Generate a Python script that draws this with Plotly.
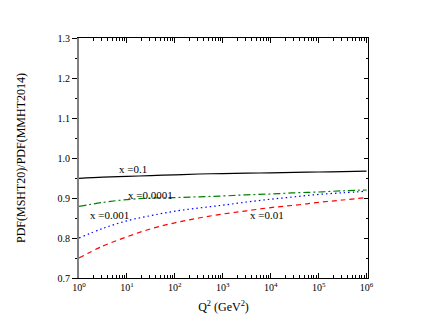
import plotly.graph_objects as go

logq = [0, 0.5, 1, 1.5, 2, 2.5, 3, 3.5, 4, 4.5, 5, 5.5, 6]
q2 = [10 ** v for v in logq]
r_x01 = [0.949, 0.952, 0.954, 0.956, 0.958, 0.960, 0.961, 0.962, 0.963, 0.964, 0.965, 0.966, 0.967]
r_x00001 = [0.879, 0.889, 0.896, 0.900, 0.901, 0.903, 0.905, 0.908, 0.910, 0.913, 0.915, 0.918, 0.920]
r_x0001 = [0.800, 0.824, 0.843, 0.856, 0.867, 0.875, 0.882, 0.890, 0.897, 0.903, 0.909, 0.913, 0.917]
r_x001 = [0.750, 0.780, 0.803, 0.823, 0.838, 0.850, 0.860, 0.868, 0.876, 0.882, 0.889, 0.895, 0.901]
labels = ["x =0.1", "x =0.0001", "x =0.001", "x =0.01"]

xtickvals = [10 ** k for k in range(7)]
xticktext = ["10<sup>%d</sup>" % k for k in range(7)]
xminor = [m * 10 ** k for k in range(6) for m in range(2, 10)]
yticks = [0.7, 0.8, 0.9, 1.0, 1.1, 1.2, 1.3]

FONT = "Liberation Serif, Times New Roman, serif"

fig = go.Figure()
series = [
    (r_x01, "black", "solid"),
    (r_x00001, "#008000", "7px,3px,2px,3px"),
    (r_x0001, "#0000ff", "1.5px,3px"),
    (r_x001, "#ff0000", "5px,4px"),
]
for vals, col, dash in series:
    fig.add_trace(go.Scatter(x=q2, y=vals, mode="lines", line=dict(color=col, dash=dash, width=1.2, shape="spline"),
                             showlegend=False, hoverinfo="skip"))
fig.add_trace(go.Scatter(x=[1], y=[1.0], xaxis="x2", yaxis="y2", mode="markers",
                         marker=dict(opacity=0), showlegend=False, hoverinfo="skip"))

ann_pos = [(1.13, 0.9725), (1.5, 0.9075), (0.63, 0.858), (3.92, 0.857)]
for (ax_, ay_), t in zip(ann_pos, labels):
    fig.add_annotation(x=ax_, y=ay_, text=t, showarrow=False,
                       font=dict(family=FONT, size=11, color="black"))

fig.update_layout(
    width=430, height=333,
    margin=dict(l=69, r=70, t=30, b=63),
    plot_bgcolor="white", paper_bgcolor="white",
    font=dict(family=FONT, size=10, color="black"),
    xaxis=dict(type="log", range=[0, 6.03], tickvals=xtickvals, ticktext=xticktext,
               ticks="inside", ticklen=5, tickcolor="black", showline=True, linecolor="black",
               linewidth=1, showgrid=False, zeroline=False,
               minor=dict(tickvals=xminor, ticks="inside", ticklen=3, tickcolor="black"),
               title=dict(text="Q<sup>2</sup> (GeV<sup>2</sup>)", font=dict(size=12), standoff=10)),
    yaxis=dict(range=[0.7, 1.3], tickvals=yticks, ticktext=["%.1f" % v for v in yticks],
               ticks="outside", ticklen=5, tickcolor="black", showline=True, linecolor="#808080",
               linewidth=2, showgrid=False, zeroline=False,
               minor=dict(dtick=0.05, ticks="outside", ticklen=2, tickcolor="black"),
               title=dict(text="PDF(MSHT20)/PDF(MMHT2014)", font=dict(size=12), standoff=29)),
    xaxis2=dict(type="log", range=[0, 6.03], overlaying="x", side="top", tickvals=xtickvals,
                showticklabels=False, ticks="inside", ticklen=5, tickcolor="black", showline=True,
                linecolor="black", linewidth=1, showgrid=False, zeroline=False,
                minor=dict(tickvals=xminor, ticks="inside", ticklen=3, tickcolor="black")),
    yaxis2=dict(range=[0.7, 1.3], overlaying="y", side="right", tickvals=yticks,
                showticklabels=False, ticks="inside", ticklen=4, tickcolor="black", showline=True,
                linecolor="black", linewidth=1, showgrid=False, zeroline=False,
                minor=dict(dtick=0.05, ticks="inside", ticklen=2, tickcolor="black")),
)
fig.write_html("out.html")
